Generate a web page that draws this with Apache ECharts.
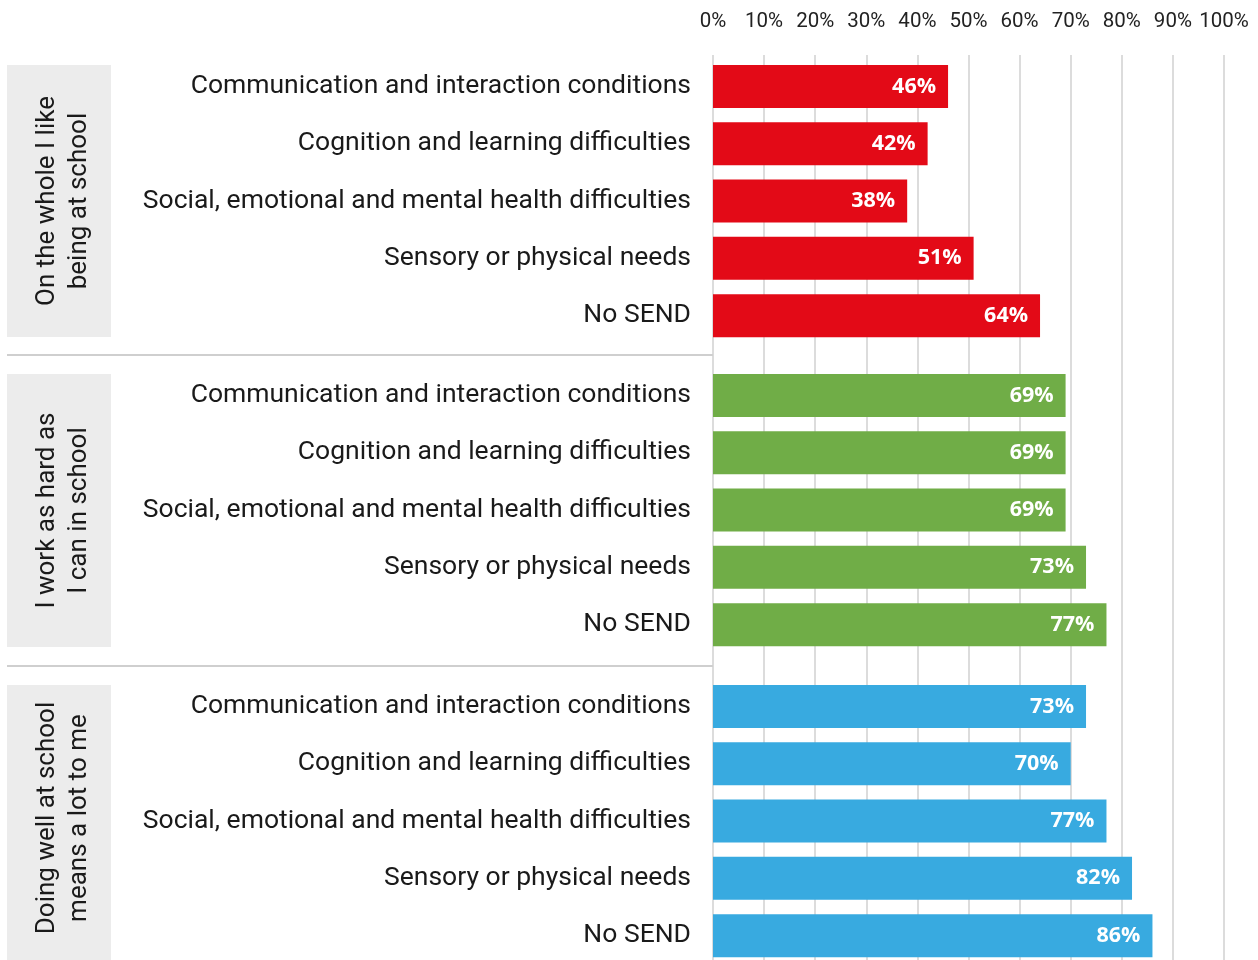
<!DOCTYPE html>
<html>
<head>
<meta charset="utf-8">
<style>
  html, body { margin: 0; padding: 0; background: #fff; overflow: hidden; }
  #chart { width: 1258px; height: 970px; }
</style>
<script src="https://cdn.jsdelivr.net/npm/echarts@6/dist/echarts.min.js"></script>
</head>
<body>
<div id="chart"></div>
<script>
// categories shared by every group
const categories = [
  'Communication and interaction conditions',
  'Cognition and learning difficulties',
  'Social, emotional and mental health difficulties',
  'Sensory or physical needs',
  'No SEND'
]
const groupNames = [
  'On the whole I like\nbeing at school',
  'I work as hard as\nI can in school',
  'Doing well at school\nmeans a lot to me'
]
const likeSchool = [46, 42, 38, 51, 64]
const workHard = [69, 69, 69, 73, 77]
const doingWell = [73, 70, 77, 82, 86]
const groupValues = [likeSchool, workHard, doingWell]
const groupColors = ['#e30a17', '#70ad47', '#38aae0']

const chart = echarts.init(document.getElementById('chart'))

// the chart runs a little past the bottom of the page, like the original crop
const H = 970
const FONT = 'Roboto'
const plotLeft = 713
const plotRight = 34
const bandH = 57.3
const groupTops = [57.8, 366.8, 677.8]
const boxTops = [65, 374, 685]
const boxBottoms = [337, 647, 970]

const grids = [{ left: plotLeft, right: plotRight, top: 55, bottom: 0 }]
const xAxes = [{
  gridIndex: 0,
  type: 'value',
  position: 'top',
  min: 0,
  max: 100,
  interval: 10,
  axisLine: { show: false },
  axisTick: { show: false },
  axisLabel: {
    formatter: '{value}%',
    fontFamily: FONT,
    fontSize: 20.5,
    color: '#222',
    margin: 23
  },
  splitLine: { lineStyle: { color: '#d0d0d0', width: 1.5 } }
}]
const yAxes = [{
  gridIndex: 0,
  type: 'value',
  show: false
}]
const series = []

groupValues.forEach((vals, g) => {
  const gi = g + 1
  grids.push({ left: plotLeft, right: plotRight, top: groupTops[g], bottom: H - groupTops[g] - bandH * 5 })
  xAxes.push({ gridIndex: gi, type: 'value', min: 0, max: 100, show: false })
  yAxes.push({
    gridIndex: gi,
    type: 'category',
    inverse: true,
    data: categories,
    axisLine: { show: false },
    axisTick: { show: false },
    axisLabel: { fontFamily: FONT, fontSize: 26.5, color: '#1a1a1a', margin: 22 }
  })
  series.push({
    type: 'bar',
    xAxisIndex: gi,
    yAxisIndex: gi,
    data: vals,
    barCategoryGap: '25%',
    itemStyle: { color: groupColors[g] },
    label: {
      show: true,
      position: 'insideRight',
      distance: 12,
      formatter: '{c}%',
      color: '#fff',
      fontFamily: 'Open Sans',
      fontWeight: 'bold',
      fontSize: 21.5
    }
  })
})

const graphic = []
groupNames.forEach((name, g) => {
  graphic.push({
    type: 'rect',
    shape: { x: 7, y: boxTops[g], width: 104, height: boxBottoms[g] - boxTops[g] },
    style: { fill: '#ececec' },
    z: -1
  })
  graphic.push({
    type: 'text',
    x: 63,
    y: g === 2 ? 818 : (boxTops[g] + boxBottoms[g]) / 2,
    rotation: Math.PI / 2,
    style: {
      text: name,
      fontFamily: FONT,
      fontSize: 26,
      lineHeight: 32,
      fill: '#1a1a1a',
      align: 'center',
      verticalAlign: 'middle'
    }
  })
})
// separators between groups
;[355, 666].forEach(y => {
  graphic.push({
    type: 'line',
    shape: { x1: 7, y1: y, x2: plotLeft, y2: y },
    style: { stroke: '#cfcfcf', lineWidth: 2 }
  })
})

chart.setOption({
  animation: false,
  grid: grids,
  xAxis: xAxes,
  yAxis: yAxes,
  series: series,
  graphic: graphic
})

window.addEventListener('resize', () => chart.resize())
</script>
</body>
</html>
